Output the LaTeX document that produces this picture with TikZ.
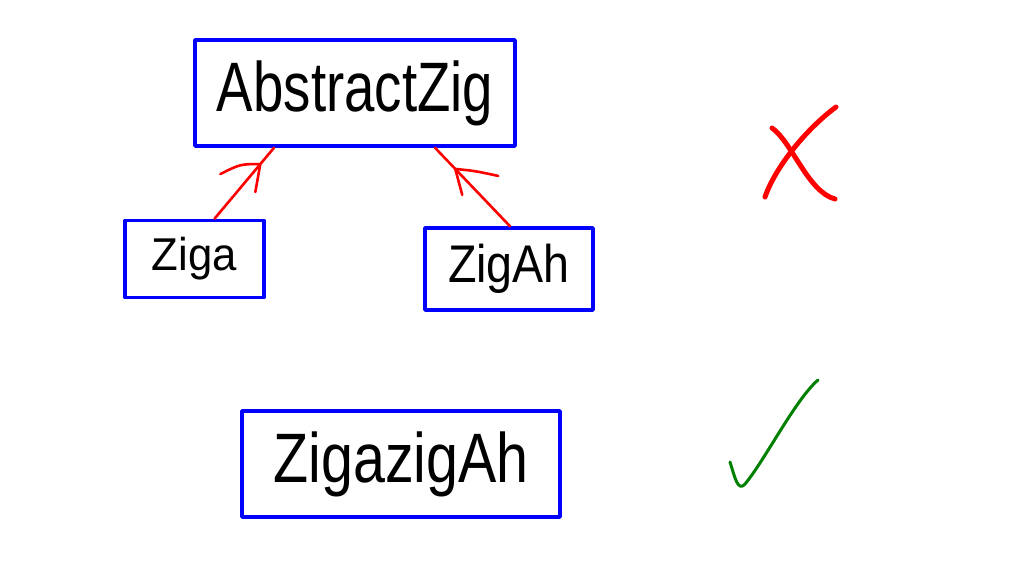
\documentclass[tikz,border=0pt]{standalone}
\usepackage{fontspec}
\setmainfont{Liberation Sans}
\usetikzlibrary{calc}
\begin{document}
\begin{tikzpicture}[x=1pt,y=-1pt,
  cls/.style={draw=blue, line width=3.5pt, line join=round, rectangle, inner sep=0pt, font=\color{black}},
  inherit/.style={draw=red, line width=2.6pt, line cap=round, line join=round},
  verdict/.style={line width=5pt, line cap=round}]
\useasboundingbox (0,0) rectangle (1024,583);
\node[cls, minimum width=320pt, minimum height=106pt] (abs) at (355,93)
  {\fontsize{70}{70}\selectfont\scalebox{0.78}[1]{AbstractZig}};
\node[cls, minimum width=139pt, minimum height=77pt] (ziga) at (194.5,259)
  {\fontsize{46}{46}\selectfont\scalebox{0.95}[1]{Ziga}\hspace{10pt}};
\node[cls, minimum width=168pt, minimum height=82pt] (zigah) at (509,269)
  {\fontsize{53}{53}\selectfont\scalebox{0.88}[1]{ZigAh}};
\node[cls, minimum width=318pt, minimum height=106pt] (zz) at (401,464)
  {\fontsize{70}{70}\selectfont\scalebox{0.82}[1]{ZigazigAh}};
% left inheritance arrow
\coordinate (s1) at ($(ziga.north)+(20,0)$);
\coordinate (e1) at ($(abs.south)+(-81,0)$);
\coordinate (t1) at ($(s1)!0.77!(e1)$);
\draw[inherit] (s1) -- (e1);
\draw[inherit] ($(t1)+(-40,10)$) .. controls ($(t1)+(-20,0)$) .. (t1) -- ($(t1)+(-5,28)$);
% right inheritance arrow
\coordinate (s2) at ($(zigah.north)+(1,0)$);
\coordinate (e2) at ($(abs.south)+(80,0)$);
\coordinate (t2) at ($(s2)!0.73!(e2)$);
\draw[inherit] (s2) -- (e2);
\draw[inherit] ($(t2)+(43,7)$) .. controls ($(t2)+(20,2)$) .. (t2) -- ($(t2)+(7,26)$);
% cross
\draw[verdict, red] (772,128) .. controls (792,142) and (808,192) .. (835,199);
\draw[verdict, red] (836,107) .. controls (805,130) and (775,168) .. (765,197);
% check
\draw[line width=3pt, line cap=round, line join=round, green!50!black]
  (730,462) .. controls (735,478) and (738,492) .. (745,484)
  .. controls (765,460) and (795,400) .. (818,380);
\end{tikzpicture}
\end{document}
